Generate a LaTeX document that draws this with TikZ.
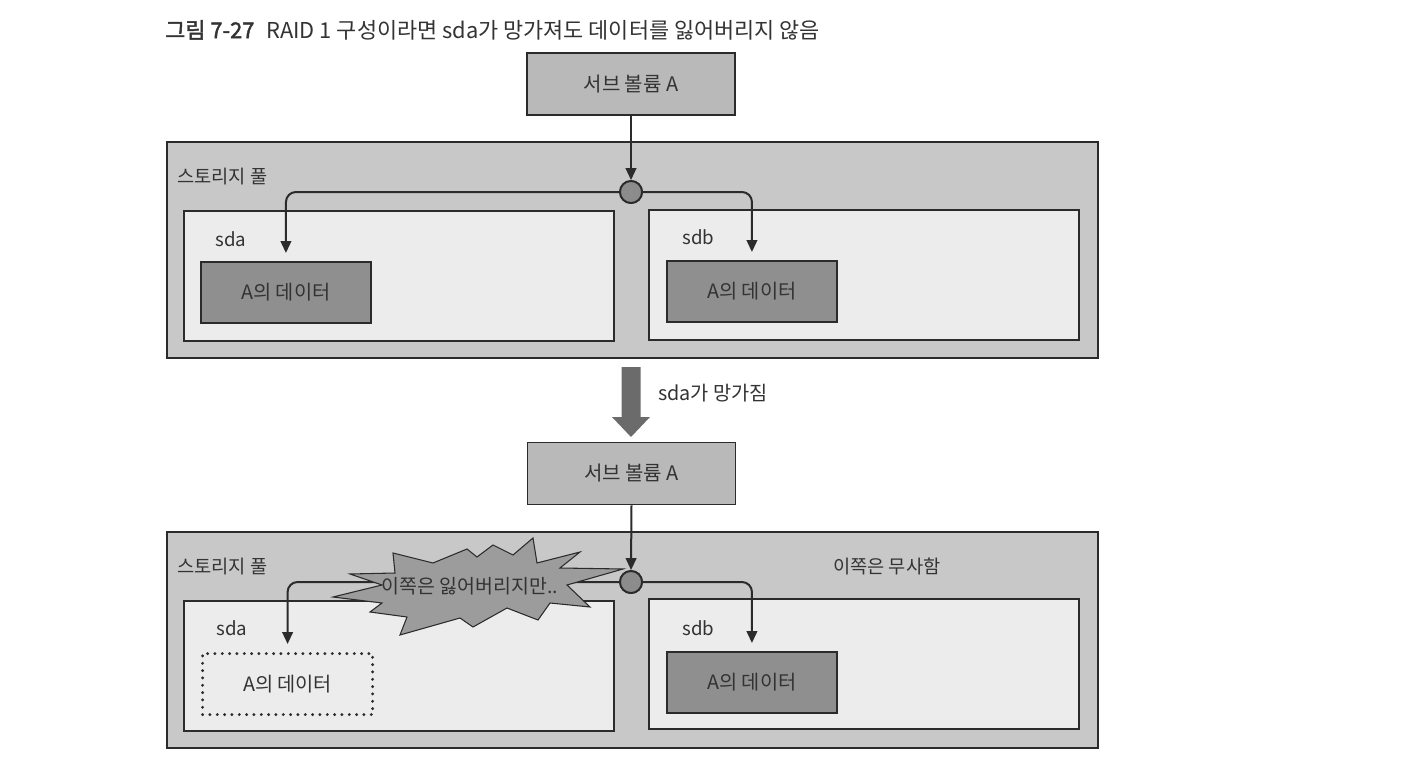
\documentclass[tikz,border=0pt]{standalone}
\usepackage{fontspec}
\setmainfont{Noto Sans CJK KR}
\newfontfamily\krbold{Noto Sans CJK KR}[FakeBold=2]
\usetikzlibrary{arrows.meta,calc}
\definecolor{edge}{HTML}{2B2B2B}
\definecolor{poolgray}{HTML}{C8C8C8}
\definecolor{diskgray}{HTML}{ECECEC}
\definecolor{datagray}{HTML}{8F8F8F}
\definecolor{subgray}{HTML}{B9B9B9}
\definecolor{hubgray}{HTML}{8C8C8C}
\definecolor{burstgray}{HTML}{9C9C9C}
\definecolor{bigarrow}{HTML}{6B6B6B}
\definecolor{txt}{HTML}{333333}
\begin{document}
\begin{tikzpicture}[x=0.75pt,y=-0.75pt,
  box/.style={draw=edge, line width=1.4pt, inner sep=0pt, anchor=north west},
  pool/.style={box, fill=poolgray, minimum width=698.25pt, minimum height=162pt},
  disk/.style={box, fill=diskgray, minimum width=322.5pt, minimum height=97.5pt},
  data/.style={box, fill=datagray, minimum width=127.5pt, minimum height=45.75pt, font=\fontsize{14.8}{17}\selectfont, text=txt},
  lostdata/.style={data, draw=edge, fill=none, line width=2.4pt, dash pattern=on 0pt off 5.5pt, line cap=round},
  subvol/.style={box, fill=subgray, minimum width=156pt, minimum height=46.5pt, font=\fontsize{15}{17}\selectfont, text=txt},
  hub/.style={circle, draw=edge, fill=hubgray, line width=1.4pt, minimum size=16.5pt, inner sep=0pt},
  conn/.style={draw=edge, line width=1.5pt, rounded corners=7.5pt, -{Triangle[length=9pt,width=8pt]}},
  lbl/.style={anchor=west, inner sep=0pt, font=\fontsize{14}{16}\selectfont, text=txt},
  burst/.style={fill=burstgray, draw=edge, line width=0.8pt, line join=miter},
  blockarrow/.style={fill=bigarrow, draw=none}
]
\useasboundingbox (0,0) rectangle (1418,778);
\fill[white] (0,0) rectangle (1418,778);

% title
\node[anchor=west, inner sep=0pt, font=\fontsize{16.4}{19}\selectfont, text=txt] (title) at (165,30)
  {{\krbold 그림 7-27}\hspace{0.55em}RAID 1 구성이라면 sda가 망가져도 데이터를 잃어버리지 않음};

% ===== upper diagram =====
\node[subvol, anchor=center] (sv1) at (631,84) {서브 볼륨 A};
\node[pool] (pool1) at (166,141) {};
\node[lbl] (poollbl1) at (177,177) {스토리지 풀};
\node[disk] (sda1) at (183,210) {};
\node[disk] (sdb1) at (648,209) {};
\node[lbl] (sdalbl1) at (215,239) {sda};
\node[lbl] (sdblbl1) at (682,237) {sdb};
\node[data] (dA1) at (200,261) {A의 데이터};
\node[data] (dB1) at (666,260) {A의 데이터};
\node[hub] (c1) at (631,192) {};
\draw[conn] (sv1.south) -- (c1.north);
\draw[conn] (c1.west) -| ([yshift=6pt]dA1.north);
\draw[conn] (c1.east) -| ([yshift=6pt]dB1.north);
\node[hub] at (c1) {};

% ===== transition arrow =====
\coordinate (ba) at (631,367);
\fill[blockarrow] ($(ba)+(-9.5,0)$) -- ($(ba)+(9.5,0)$) -- ($(ba)+(9.5,50)$) -- ($(ba)+(19,50)$)
  -- ($(ba)+(0,70)$) -- ($(ba)+(-19,50)$) -- ($(ba)+(-9.5,50)$) -- cycle;
\node[lbl, font=\fontsize{14.8}{17}\selectfont] (fail) at (658,393) {sda가 망가짐};

% ===== lower diagram =====
\node[subvol, anchor=center] (sv2) at (631.5,473.5) {서브 볼륨 A};
\node[pool] (pool2) at (166,531) {};
\node[lbl] (poollbl2) at (177,567) {스토리지 풀};
\node[lbl] (oklbl) at (833,566) {이쪽은 무사함};
\node[disk] (sda2) at (183,600) {};
\node[disk] (sdb2) at (648,598) {};
\node[lbl] (sdalbl2) at (216,628) {sda};
\node[lbl] (sdblbl2) at (682,628) {sdb};
\node[lostdata] (dA2) at (201,652) {A의 데이터};
\node[data] (dB2) at (666,651) {A의 데이터};
\node[hub] (c2) at (631,582) {};
\draw[conn] (sv2.south) -- (c2.north);
\draw[conn] (c2.west) -| ([yshift=6pt]dA2.north);
\draw[conn] (c2.east) -| ([yshift=6pt]dB2.north);
\node[hub] at (c2) {};

% starburst
\draw[burst] (333,597) -- (382,585) -- (350,574) -- (395,573) -- (393,553) -- (433,563)
  -- (467,549) -- (477,557) -- (493,545) -- (513,555) -- (533,538) -- (537,563)
  -- (580,552) -- (560,568) -- (623,569) -- (567,585) -- (590,607) -- (550,603)
  -- (538,620) -- (507,608) -- (473,627) -- (460,618) -- (400,635) -- (407,617)
  -- (370,612) -- (382,603) -- cycle;
\node[anchor=center, inner sep=0pt, font=\fontsize{14.6}{17}\selectfont, text=txt] (lost) at (470,586) {이쪽은 잃어버리지만..};
\end{tikzpicture}
\end{document}
